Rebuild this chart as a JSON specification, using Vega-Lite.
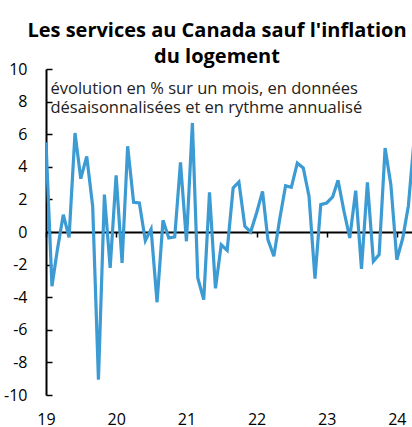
{
  "$schema": "https://vega.github.io/schema/vega-lite/v6.json",
  "autosize": {"type": "none"},
  "padding": {"left": 46, "top": 69, "right": 0, "bottom": 32},
  "width": 366,
  "height": 326,
  "background": "white",
  "title": {
    "text": ["Les services au Canada sauf l'inflation", "du logement"],
    "font": "Open Sans",
    "fontSize": 20,
    "fontWeight": "bold",
    "color": "#000000",
    "anchor": "middle",
    "dx": -12,
    "lineHeight": 26,
    "offset": -6
  },
  "config": {
    "view": {"stroke": null},
    "font": "Open Sans"
  },
  "data": {
    "values": [
      {"date": "2019-01-01", "value": 5.5},
      {"date": "2019-02-01", "value": -3.33},
      {"date": "2019-03-01", "value": -1.1},
      {"date": "2019-04-01", "value": 1.06},
      {"date": "2019-05-01", "value": -0.33},
      {"date": "2019-06-01", "value": 6.07},
      {"date": "2019-07-01", "value": 3.27},
      {"date": "2019-08-01", "value": 4.64},
      {"date": "2019-09-01", "value": 1.57},
      {"date": "2019-10-01", "value": -9.06},
      {"date": "2019-11-01", "value": 2.29},
      {"date": "2019-12-01", "value": -2.2},
      {"date": "2020-01-01", "value": 3.48},
      {"date": "2020-02-01", "value": -1.9},
      {"date": "2020-03-01", "value": 5.26},
      {"date": "2020-04-01", "value": 1.82},
      {"date": "2020-05-01", "value": 1.78},
      {"date": "2020-06-01", "value": -0.53},
      {"date": "2020-07-01", "value": 0.18},
      {"date": "2020-08-01", "value": -4.31},
      {"date": "2020-09-01", "value": 0.72},
      {"date": "2020-10-01", "value": -0.37},
      {"date": "2020-11-01", "value": -0.3},
      {"date": "2020-12-01", "value": 4.27},
      {"date": "2021-01-01", "value": -0.57},
      {"date": "2021-02-01", "value": 6.69},
      {"date": "2021-03-01", "value": -2.82},
      {"date": "2021-04-01", "value": -4.15},
      {"date": "2021-05-01", "value": 2.43},
      {"date": "2021-06-01", "value": -3.46},
      {"date": "2021-07-01", "value": -0.78},
      {"date": "2021-08-01", "value": -1.12},
      {"date": "2021-09-01", "value": 2.7},
      {"date": "2021-10-01", "value": 3.07},
      {"date": "2021-11-01", "value": 0.35},
      {"date": "2021-12-01", "value": 0.0},
      {"date": "2022-01-01", "value": 1.17},
      {"date": "2022-02-01", "value": 2.49},
      {"date": "2022-03-01", "value": -0.47},
      {"date": "2022-04-01", "value": -1.49},
      {"date": "2022-05-01", "value": 0.76},
      {"date": "2022-06-01", "value": 2.84},
      {"date": "2022-07-01", "value": 2.74},
      {"date": "2022-08-01", "value": 4.23},
      {"date": "2022-09-01", "value": 3.93},
      {"date": "2022-10-01", "value": 2.19},
      {"date": "2022-11-01", "value": -2.86},
      {"date": "2022-12-01", "value": 1.68},
      {"date": "2023-01-01", "value": 1.78},
      {"date": "2023-02-01", "value": 2.15},
      {"date": "2023-03-01", "value": 3.17},
      {"date": "2023-04-01", "value": 1.27},
      {"date": "2023-05-01", "value": -0.37},
      {"date": "2023-06-01", "value": 2.54},
      {"date": "2023-07-01", "value": -2.27},
      {"date": "2023-08-01", "value": 3.05},
      {"date": "2023-09-01", "value": -1.8},
      {"date": "2023-10-01", "value": -1.39},
      {"date": "2023-11-01", "value": 5.15},
      {"date": "2023-12-01", "value": 2.9},
      {"date": "2024-01-01", "value": -1.7},
      {"date": "2024-02-01", "value": -0.37},
      {"date": "2024-03-01", "value": 1.6},
      {"date": "2024-04-01", "value": 5.8}
    ],
    "format": {"parse": {"date": "date"}}
  },
  "mark": {"type": "line", "color": "#3d9bd3", "strokeWidth": 3.2, "clip": true},
  "encoding": {
    "x": {
      "field": "date",
      "type": "temporal",
      "scale": {"type": "utc", "domain": [{"year": 2019, "month": 1, "date": 1, "utc": true}, {"year": 2024, "month": 3, "date": 20, "utc": true}]},
      "axis": {
        "title": null,
        "domain": false,
        "ticks": true,
        "tickColor": "#000000",
        "tickWidth": 1.5,
        "tickSize": 5,
        "offset": -163,
        "grid": false,
        "labelExpr": "utcFormat(datum.value, '%y')",
        "values": [
          {"year": 2019, "month": 1, "date": 1, "utc": true},
          {"year": 2020, "month": 1, "date": 1, "utc": true},
          {"year": 2021, "month": 1, "date": 1, "utc": true},
          {"year": 2022, "month": 1, "date": 1, "utc": true},
          {"year": 2023, "month": 1, "date": 1, "utc": true},
          {"year": 2024, "month": 1, "date": 1, "utc": true}
        ],
        "labelFont": "Open Sans",
        "labelFontSize": 16,
        "labelColor": "#000000",
        "labelPadding": 174,
        "labelFlush": false,
        "labelOverlap": false
      }
    },
    "y": {
      "field": "value",
      "type": "quantitative",
      "scale": {"domain": [-10, 10], "nice": false, "zero": false},
      "axis": {
        "title": ["évolution en % sur un mois, en données", "désaisonnalisées et en rythme annualisé"],
        "titleAngle": 0,
        "titleAlign": "left",
        "titleBaseline": "alphabetic",
        "titleAnchor": null,
        "titleX": 4,
        "titleY": 24,
        "titleFont": "Open Sans",
        "titleFontSize": 16.5,
        "titleFontWeight": "normal",
        "titleColor": "#222222",
        "titleLineHeight": 19.5,
        "values": [-10, -8, -6, -4, -2, 0, 2, 4, 6, 8, 10],
        "labelExpr": "datum.value < 0 ? '-' + abs(datum.value) : '' + datum.value",
        "grid": true,
        "gridColor": {"condition": {"test": "datum.value === 0", "value": "#000000"}, "value": "transparent"},
        "gridWidth": 2,
        "domain": true,
        "domainColor": "#000000",
        "domainWidth": 2,
        "ticks": true,
        "tickColor": "#000000",
        "tickWidth": 1.5,
        "tickSize": -6,
        "labelFont": "Open Sans",
        "labelFontSize": 16,
        "labelColor": "#000000",
        "labelPadding": 25,
        "labelOverlap": false,
        "labelFlush": false
      }
    }
  }
}
